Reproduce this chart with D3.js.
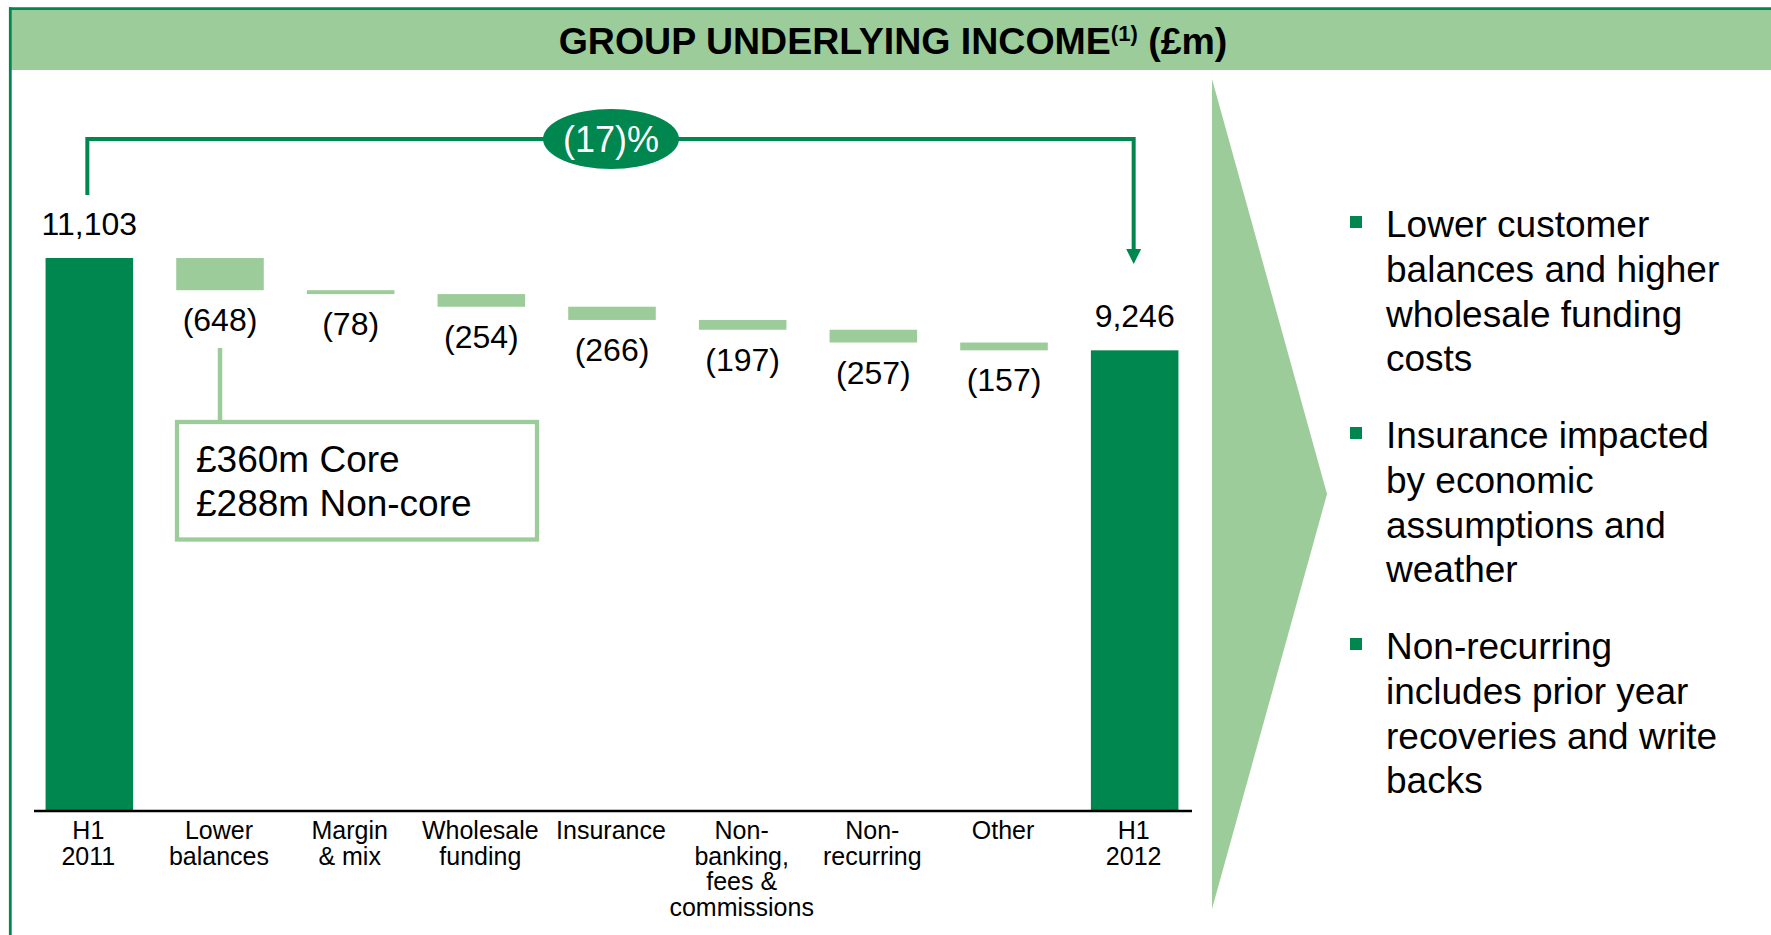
<!DOCTYPE html>
<html>
<head>
<meta charset="utf-8">
<script src="https://cdn.jsdelivr.net/npm/d3@7"></script>
<style>
  body { margin: 0; background: #fff; }
  svg { display: block; font-family: "Liberation Sans", Arial, sans-serif; }
</style>
</head>
<body>
<svg id="chart" width="1771" height="935"></svg>
<script>
'use strict';

// chart data
var categories = [
  ['H1', '2011'], ['Lower', 'balances'], ['Margin', '& mix'], ['Wholesale', 'funding'],
  ['Insurance'], ['Non-', 'banking,', 'fees &', 'commissions'], ['Non-', 'recurring'],
  ['Other'], ['H1', '2012']
];
var startValue = 11103;
var deltas = [-648, -78, -254, -266, -197, -257, -157];
var endValue = 9246;
var changeLabel = '(17)%';
var calloutLines = ['£360m Core', '£288m Non-core'];
var bullets = [
  ['Lower customer', 'balances and higher', 'wholesale funding', 'costs'],
  ['Insurance impacted', 'by economic', 'assumptions and', 'weather'],
  ['Non-recurring', 'includes prior year', 'recoveries and write', 'backs']
];

var dark = '#00864f',
    light = '#9ccc99';

var svg = d3.select('#chart'),
    fmt = d3.format(',');

// Build waterfall steps from start, deltas and end
function buildSteps() {
  var steps = [{ i: 0, lo: 0, hi: startValue, total: true, label: fmt(startValue) }],
      running = startValue;

  deltas.forEach(function (d, k) {
    steps.push({ i: k + 1, lo: running + d, hi: running, total: false, label: '(' + Math.abs(d) + ')' });
    running += d;
  });
  steps.push({ i: deltas.length + 1, lo: 0, hi: endValue, total: true, label: fmt(endValue) });
  return steps;
}

var steps = buildSteps();

var x = d3.scaleBand().domain(d3.range(categories.length))
  .range([24, 1200]).paddingInner(0.33).paddingOuter(0.165);
var y = d3.scaleLinear().domain([0, startValue]).range([810, 258]);
var cx = function (i) { return x(i) + x.bandwidth() / 2; };

// header band
svg.append('rect').attr('x', 11).attr('y', 10).attr('width', 1760).attr('height', 60).attr('fill', light);
svg.append('line').attr('x1', 9).attr('x2', 1771).attr('y1', 8.6).attr('y2', 8.6)
  .attr('stroke', dark).attr('stroke-width', 2.8);
svg.append('line').attr('x1', 10.3).attr('x2', 10.3).attr('y1', 7.3).attr('y2', 935)
  .attr('stroke', dark).attr('stroke-width', 2.8);

var title = svg.append('text').attr('x', 893).attr('y', 54).attr('text-anchor', 'middle')
  .attr('font-size', 37.5).attr('font-weight', 'bold').attr('fill', '#000');
title.append('tspan').text('GROUP UNDERLYING INCOME');
title.append('tspan').attr('font-size', 22).attr('dy', -13).text('(1)');
title.append('tspan').attr('dy', 13).text(' (£m)');

// chevron
svg.append('polygon').attr('points', '1212,79 1327,494 1212,909').attr('fill', light);

// bars
svg.append('g').selectAll('rect').data(steps).join('rect')
  .attr('x', function (d) { return x(d.i); })
  .attr('width', x.bandwidth())
  .attr('y', function (d) { return y(d.hi); })
  .attr('height', function (d) { return y(d.lo) - y(d.hi); })
  .attr('fill', function (d) { return d.total ? dark : light; });

// value labels
svg.append('g').selectAll('text').data(steps).join('text')
  .attr('x', function (d) { return cx(d.i); })
  .attr('y', function (d) { return d.total ? y(d.hi) - 23 : y(d.lo) + 41; })
  .attr('text-anchor', 'middle').attr('font-size', 32).attr('fill', '#000')
  .text(function (d) { return d.label; });

// baseline
svg.append('line').attr('x1', 34).attr('x2', 1192).attr('y1', 811).attr('y2', 811)
  .attr('stroke', '#000').attr('stroke-width', 2.6);

// category labels
var cat = svg.append('g').selectAll('text').data(categories).join('text')
  .attr('x', function (d, i) { return cx(i) - 1; })
  .attr('y', 839).attr('text-anchor', 'middle').attr('font-size', 25).attr('fill', '#000');
cat.selectAll('tspan').data(function (d) { return d; }).join('tspan')
  .attr('x', function () { return d3.select(this.parentNode).attr('x'); })
  .attr('dy', function (d, k) { return k ? 25.6 : 0; })
  .text(function (d) { return d; });

// change bracket with arrow
var xa = cx(0) - 2, xb = cx(categories.length - 1) - 1;
svg.append('path')
  .attr('d', 'M' + xa + ',195V139H' + xb + 'V250')
  .attr('fill', 'none').attr('stroke', dark).attr('stroke-width', 4);
svg.append('path')
  .attr('d', 'M' + (xb - 7.5) + ',249L' + (xb + 7.5) + ',249L' + xb + ',264Z')
  .attr('fill', dark);
svg.append('ellipse').attr('cx', cx(4) - 1).attr('cy', 139).attr('rx', 68).attr('ry', 30).attr('fill', dark);
svg.append('text').attr('x', cx(4) - 1).attr('y', 152).attr('text-anchor', 'middle')
  .attr('font-size', 36).attr('fill', '#fff').text(changeLabel);

// callout for lower balances
var c1 = cx(1);
svg.append('line').attr('x1', c1).attr('x2', c1).attr('y1', 348).attr('y2', 422)
  .attr('stroke', light).attr('stroke-width', 4.5);
svg.append('rect').attr('x', 177).attr('y', 422).attr('width', 360).attr('height', 117.5)
  .attr('fill', '#fff').attr('stroke', light).attr('stroke-width', 4.3);
svg.append('g').selectAll('text').data(calloutLines).join('text')
  .attr('x', 196).attr('y', function (d, k) { return 472 + k * 44; })
  .attr('font-size', 37).attr('fill', '#000').text(function (d) { return d; });

// bullets on the right
var bl = svg.append('g').selectAll('g').data(bullets).join('g')
  .attr('transform', function (d, k) { return 'translate(0,' + (237 + k * 211) + ')'; });
bl.append('rect').attr('x', 1350).attr('y', -21).attr('width', 12).attr('height', 12).attr('fill', dark);
bl.append('text').attr('font-size', 37).attr('fill', '#000')
  .selectAll('tspan').data(function (d) { return d; }).join('tspan')
  .attr('x', 1386).attr('y', function (d, k) { return k * 44.8; })
  .text(function (d) { return d; });
</script>
</body>
</html>
